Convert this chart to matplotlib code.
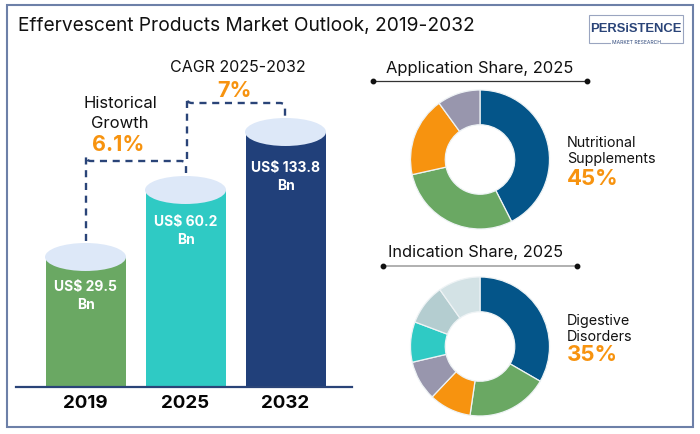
import matplotlib
matplotlib.use("Agg")
import matplotlib.pyplot as plt
from matplotlib.patches import Ellipse, Rectangle, PathPatch
from matplotlib.path import Path

plt.rcParams['font.family'] = ['Inter', 'DejaVu Sans']

years = ['2019', '2025', '2032']
market_labels = ['US$ 29.5\nBn', 'US$ 60.2\nBn', 'US$ 133.8\nBn']
# cylinders in the picture are not to scale with the values, these are the drawn heights
bar_heights = [130, 197, 255]
bar_colors = ['#6aa863', '#2fcac4', '#21407a']

app_shares = [42.5, 29, 18.5, 10]
app_colors = ['#045589', '#6aa863', '#f7930f', '#9896ad']
ind_shares = [33.4, 19, 9.8, 9.3, 9.4, 9.5, 9.8]
ind_colors = ['#045589', '#6aa863', '#f7930f', '#9896ad', '#2fcac4', '#b4cdd0', '#d3e2e5']

W, H = 700, 435
ORANGE = '#f7930f'
NAVY = '#2a4478'

fig = plt.figure(figsize=(W / 100, H / 100), dpi=100)

# overlay in pixel coordinates for frame and text
bg = fig.add_axes([0, 0, 1, 1])
bg.set_xlim(0, W)
bg.set_ylim(H, 0)
bg.axis('off')
bg.add_patch(Rectangle((6.5, 6), 686.5, 422, fill=False, ec='#6d80a8', lw=1.5))


def label(x, y, s, size, color='#111111', weight='normal', ha='center', **kw):
    bg.text(x, y, s, fontsize=size, color=color, fontweight=weight, ha=ha, va='center', **kw)


# bars
ax = fig.add_axes([16 / W, (H - 388) / H, 336 / W, 368 / H])
ax.patch.set_alpha(0)
ax.set_xlim(-0.695, 2.665)
ax.set_ylim(0, 368)
xs = range(len(years))
ax.bar(xs, bar_heights, width=0.8, color=bar_colors)
for x, h in zip(xs, bar_heights):
    ax.add_patch(Ellipse((x, h), 0.81, 28, color='#dde8f8', lw=0, zorder=3))
for side in ['top', 'left', 'right']:
    ax.spines[side].set_visible(False)
ax.spines['bottom'].set_color(NAVY)
ax.spines['bottom'].set_linewidth(1.6)
ax.set_yticks([])
ax.set_xticks(list(xs))
ax.set_xticklabels(years, fontsize=13.5, fontweight='bold', color='#050505')
ax.tick_params(axis='x', length=0, pad=5)

label_drop = [38, 40, 44]
for i, s in enumerate(market_labels):
    ax.text(i, bar_heights[i] - label_drop[i], s, color='white', fontsize=10, fontweight='bold',
            ha='center', va='center', linespacing=1.38)


# dashed connectors with a rounded corner at each end
def connector(x0, y0, y1, x1, y2):
    r = 5
    verts = [(x0, y0), (x0, y1 - r), (x0, y1), (x0 + r, y1), (x1 - r, y1), (x1, y1), (x1, y1 + r), (x1, y2)]
    codes = [Path.MOVETO, Path.LINETO, Path.CURVE3, Path.CURVE3, Path.LINETO, Path.CURVE3, Path.CURVE3, Path.LINETO]
    bg.add_patch(PathPatch(Path(verts, codes), fill=False, ec=NAVY, lw=1.7, ls=(0, (3, 2.4)), zorder=5))


connector(86, 242, 162, 186, 174)
connector(187, 160, 104, 285, 118)

label(18, 25.5, 'Effervescent Products Market Outlook, 2019-2032', 13.8, ha='left')
label(238, 67, 'CAGR 2025-2032', 11.5)
label(235, 91, '7%', 15.5, ORANGE, 'bold')
label(120, 103, 'Historical', 12)
label(120, 124, 'Growth', 12)
label(118, 145, '6.1%', 15.5, ORANGE, 'bold')

# logo
bg.add_patch(Rectangle((588.5, 15.5), 94, 28, fill=False, ec='#9aa5c0', lw=0.8))
label(635.5, 28.5, 'PERSiSTENCE', 9.4, '#2a4478', 'bold', family='Liberation Sans')
label(636, 42.5, 'MARKET RESEARCH', 3.6, '#2a4478', bbox=dict(fc='white', ec='none', pad=0.6))


def donut(cx, cy, values, colors):
    r = 69.5
    a = fig.add_axes([(cx - r) / W, (H - cy - r) / H, 2 * r / W, 2 * r / H])
    a.pie(values, colors=colors, startangle=90, counterclock=False, radius=1,
          wedgeprops=dict(width=0.5, edgecolor='#eef3f5', linewidth=0.9))
    a.set_xlim(-1, 1)
    a.set_ylim(-1, 1)


donut(480, 160.5, app_shares, app_colors)
donut(480, 347.5, ind_shares, ind_colors)

# headings of the two donuts
label(480, 69, 'Application Share, 2025', 11.9)
bg.plot([373, 587], [82, 82], color='#333333', lw=0.9)
bg.plot([373, 587], [82, 82], 'o', color='#111111', ms=3.2)
label(476, 253, 'Indication Share, 2025', 11.8)
bg.plot([383, 577], [266.7, 266.7], color='#aaaaaa', lw=1.3)
bg.plot([383, 577], [266.7, 266.7], 'o', color='#111111', ms=3.2)

label(567, 143, 'Nutritional', 10.3, ha='left')
label(567, 159, 'Supplements', 10.3, ha='left')
label(567, 179, '45%', 16, ORANGE, 'bold', ha='left')
label(567, 321, 'Digestive', 10.3, ha='left')
label(567, 337, 'Disorders', 10.3, ha='left')
label(567, 355, '35%', 16, ORANGE, 'bold', ha='left')

fig.savefig('out.png', dpi=100)
